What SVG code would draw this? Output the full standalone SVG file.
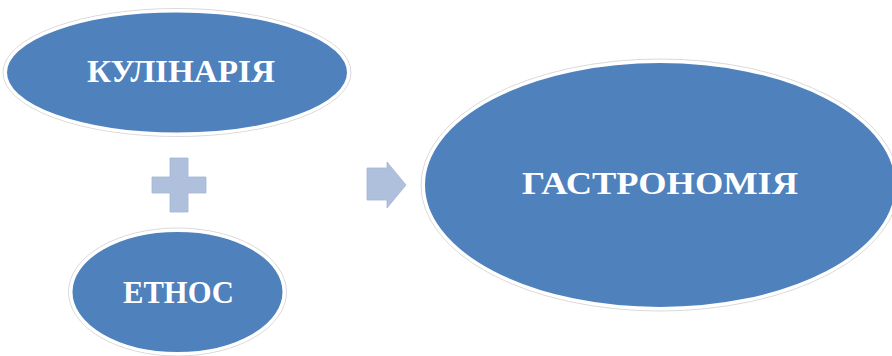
<svg xmlns="http://www.w3.org/2000/svg" width="892" height="356" viewBox="0 0 892 356">
<style>
.halo{fill:none;stroke:#dadada;stroke-width:1}
.node{fill:#4F81BD;stroke:#ffffff;stroke-width:3}
.lbl{font-family:"Liberation Serif","Times New Roman",serif;font-weight:bold;fill:#ffffff;text-anchor:middle}
.sym{fill:#AFC0DD;stroke:#A3B5D6;stroke-width:0.8}
</style>
<rect width="892" height="356" fill="#ffffff"/>
<g id="node-kulinaria">
<ellipse class="halo" cx="177" cy="72.5" rx="174" ry="64"/>
<ellipse class="node" cx="177" cy="72.5" rx="171.5" ry="61.5"/>
<text class="lbl" x="181" y="82" font-size="31" textLength="188" lengthAdjust="spacingAndGlyphs">КУЛІНАРІЯ</text>
</g>
<g id="node-etnos">
<ellipse class="halo" cx="177.5" cy="292" rx="109" ry="64"/>
<ellipse class="node" cx="177.5" cy="292" rx="106.5" ry="61.5"/>
<text class="lbl" x="178.5" y="303" font-size="31" textLength="111" lengthAdjust="spacingAndGlyphs">ЕТНОС</text>
</g>
<g id="node-gastronomia">
<ellipse class="halo" cx="660" cy="185" rx="239" ry="126"/>
<ellipse class="node" cx="660" cy="185" rx="236.5" ry="123.5"/>
<text class="lbl" x="660" y="194" font-size="31" textLength="276" lengthAdjust="spacingAndGlyphs">ГАСТРОНОМІЯ</text>
</g>
<g id="connectors">
<path class="sym" d="M170,158 H188 V177 H206 V193 H188 V212 H170 V193 H152 V177 H170 Z"/>
<path class="sym" d="M367,168 H387 V162 L406,185 L387,208 V200 H367 Z"/>
</g>
</svg>
